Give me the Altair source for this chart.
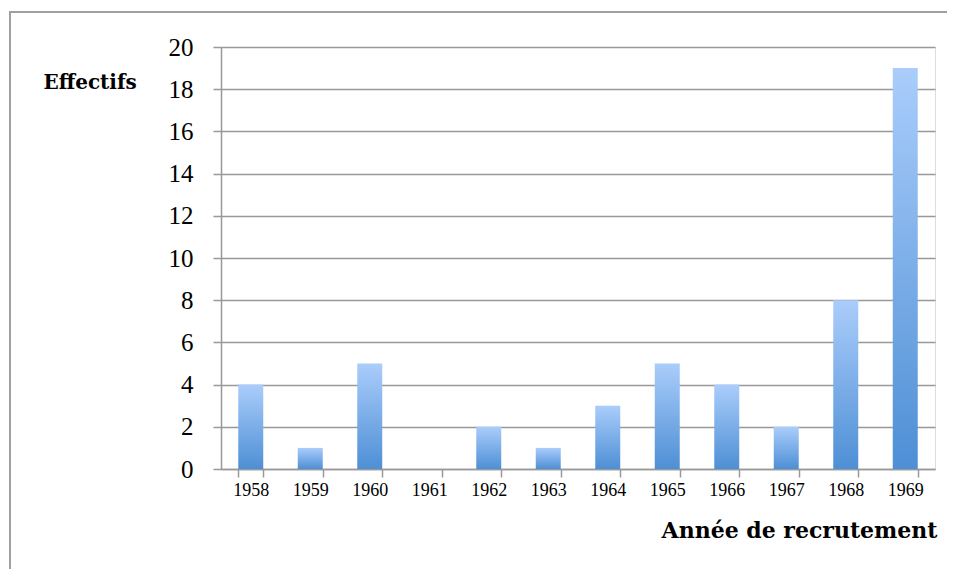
import altair as alt
import pandas as pd

years = ["1958", "1959", "1960", "1961", "1962", "1963", "1964", "1965", "1966", "1967", "1968", "1969"]
effectifs = [4, 1, 5, 0, 2, 1, 3, 5, 4, 2, 8, 19]
y_ticks = list(range(0, 21, 2))

df = pd.DataFrame({"annee": years, "effectif": effectifs})

W, H = 714, 422
PL, PT, PR, PB = 213, 39, 12, 100

grad = alt.Gradient(
    gradient="linear",
    stops=[alt.GradientStop(color="#aacdfb", offset=0),
           alt.GradientStop(color="#4e8fd5", offset=1)],
    x1=0, x2=0, y1=0, y2=1,
)

bars = alt.Chart(df).mark_bar(color=grad).encode(
    x=alt.X("annee:N", sort=years,
            scale=alt.Scale(paddingInner=0.58, paddingOuter=0.29),
            axis=alt.Axis(title="Année de recrutement", labelAngle=0,
                          tickBand="extent", grid=False,
                          labelFont="Liberation Serif", labelFontSize=18,
                          labelColor="#000", labelPadding=4,
                          tickSize=8, tickColor="#999", tickWidth=1.5,
                          domainColor="#999", domainWidth=1.5,
                          titleFont="DejaVu Serif", titleFontWeight="bold",
                          titleFontSize=22, titleColor="#000",
                          titleAnchor="end", titleAlign="right",
                          titleX=W + 2, titleY=61, titleBaseline="middle")),
    y=alt.Y("effectif:Q",
            scale=alt.Scale(domain=[0, 20], nice=False),
            axis=alt.Axis(title="Effectifs", values=y_ticks,
                          labelFont="Liberation Serif", labelFontSize=25,
                          labelColor="#000", labelPadding=20,
                          tickSize=8, tickColor="#999", tickWidth=1.5,
                          domainColor="#999", domainWidth=1.5,
                          gridColor="#999", gridWidth=1.5,
                          titleFont="DejaVu Serif", titleFontWeight="bold",
                          titleFontSize=20, titleColor="#000",
                          titleAngle=0, titleAlign="left", titleBaseline="middle",
                          titleX=-178, titleY=35)),
)

border_left = alt.Chart(df).mark_rule(color="#a0a0a0", strokeWidth=2).encode(
    x=alt.value(-211), y=alt.value(-35), y2=alt.value(H + PB)
)
border_top = alt.Chart(df).mark_rule(color="#a0a0a0", strokeWidth=2).encode(
    x=alt.value(-212), x2=alt.value(W + PR), y=alt.value(-35)
)

chart = alt.layer(bars, border_left, border_top).properties(
    width=W, height=H,
    autosize=alt.AutoSizeParams(type="none"),
    padding={"left": PL, "top": PT, "right": PR, "bottom": PB},
).configure_view(stroke=None).configure(background="white")

chart.save("out.html", embed_options={"renderer": "svg", "actions": False})
